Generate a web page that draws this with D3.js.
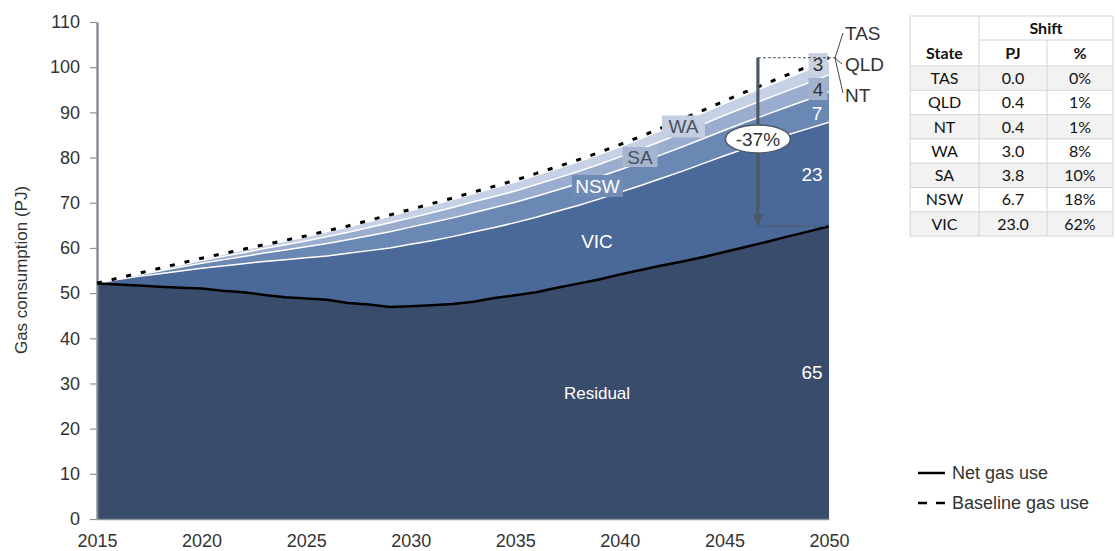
<!DOCTYPE html>
<html>
<head>
<meta charset="utf-8">
<script src="https://cdn.jsdelivr.net/npm/d3@7"></script>
<style>
  body { margin: 0; background: #fff; }
  svg { display: block; font-family: "Liberation Sans", Arial, sans-serif; }
</style>
</head>
<body>
<svg id="chart" width="1115" height="551"></svg>
<script>
// Annual gas consumption (PJ), 2015–2050
const years = [2015,2016,2017,2018,2019,2020,2021,2022,2023,2024,2025,2026,2027,2028,2029,2030,2031,2032,2033,2034,2035,2036,2037,2038,2039,2040,2041,2042,2043,2044,2045,2046,2047,2048,2049,2050];

// Net gas use after electrification
const residual = [52.1,51.9,51.7,51.4,51.2,51.0,50.5,50.2,49.6,49.1,48.8,48.5,47.8,47.5,46.9,47.1,47.3,47.6,48.1,48.9,49.5,50.2,51.2,52.1,53.0,54.1,55.1,56.1,57.0,58.0,59.1,60.2,61.3,62.5,63.6,64.8];

// Shift away from gas, by state
const vic = [0.1,1.1,2.0,2.9,3.7,4.5,5.5,6.3,7.4,8.3,9.0,9.7,11.0,11.9,13.1,13.7,14.3,14.9,15.4,15.6,16.1,16.6,16.9,17.3,17.8,18.2,18.7,19.3,20.0,20.7,21.3,21.8,22.2,22.5,22.8,23.0];
const nsw = [0,0.15,0.35,0.6,0.85,1.1,1.35,1.6,1.85,2.15,2.45,2.8,3.0,3.3,3.6,3.8,4.0,4.15,4.3,4.45,4.5,4.65,4.7,4.8,4.9,5.0,5.1,5.25,5.4,5.5,5.65,5.8,6.0,6.2,6.45,6.7];
const sa  = [0,0.08,0.18,0.3,0.45,0.6,0.72,0.85,1.0,1.15,1.3,1.5,1.65,1.8,1.95,2.05,2.2,2.3,2.4,2.45,2.5,2.6,2.65,2.7,2.75,2.85,2.95,3.0,3.1,3.2,3.3,3.4,3.5,3.55,3.65,3.8];
const wa  = [0,0.06,0.14,0.25,0.35,0.45,0.55,0.65,0.75,0.85,0.95,1.1,1.2,1.35,1.5,1.6,1.7,1.77,1.83,1.9,2.0,2.05,2.1,2.15,2.2,2.25,2.33,2.42,2.5,2.55,2.6,2.7,2.75,2.85,2.9,3.0];
const nt  = [0,0.01,0.02,0.03,0.03,0.04,0.05,0.06,0.07,0.08,0.1,0.11,0.12,0.13,0.14,0.15,0.16,0.17,0.18,0.19,0.2,0.21,0.22,0.23,0.24,0.25,0.26,0.27,0.28,0.3,0.31,0.32,0.34,0.36,0.38,0.4];
const qld = [0,0,0.01,0.02,0.02,0.03,0.04,0.05,0.05,0.06,0.07,0.08,0.09,0.1,0.11,0.12,0.13,0.14,0.15,0.16,0.17,0.18,0.19,0.2,0.21,0.22,0.23,0.24,0.25,0.26,0.27,0.29,0.31,0.33,0.36,0.4];
const tas = [0,0,0,0,0,0,0,0,0,0,0,0,0,0,0,0,0,0,0,0,0,0,0,0,0,0,0,0,0,0,0,0,0,0,0,0];

const layerKeys = ["Residual","VIC","NSW","SA","WA","NT","QLD","TAS"];
const layerColors = ["#3a4c6b","#4a6898","#6b88b4","#9badce","#c6d1e5","#d6deec","#e2e8f2","#eef1f7"];
const tableOrder = ["TAS","QLD","NT","WA","SA","NSW","VIC"];
const yTicks = [0,10,20,30,40,50,60,70,80,90,100,110];
const xTicks = [2015,2020,2025,2030,2035,2040,2045,2050];

const series = { Residual: residual, VIC: vic, NSW: nsw, SA: sa, WA: wa, NT: nt, QLD: qld, TAS: tas };
const rows = years.map((yr, i) => {
  const r = { year: yr };
  layerKeys.forEach(k => r[k] = series[k][i]);
  return r;
});

const svg = d3.select("#chart");
const x = d3.scaleLinear().domain([2015, 2050]).range([97, 829]);
const y = d3.scaleLinear().domain([0, 110]).range([519, 22]);

const stacked = d3.stack().keys(layerKeys)(rows);

// Stacked areas
const area = d3.area().x(d => x(d.data.year)).y0(d => y(d[0])).y1(d => y(d[1]));
svg.append("g").selectAll("path").data(stacked).join("path")
  .attr("d", area)
  .attr("fill", (d, i) => layerColors[i]);

// White separators on top of each state layer
const topLine = d3.line().x(d => x(d.data.year)).y(d => y(d[1]));
svg.append("g").selectAll("path").data(stacked.slice(1, 7)).join("path")
  .attr("d", topLine)
  .attr("fill", "none").attr("stroke", "#fff").attr("stroke-width", 1.5);

// Axes
const yAxis = svg.append("g").attr("transform", "translate(97,0)")
  .call(d3.axisLeft(y).tickValues(yTicks).tickSize(7).tickPadding(10).tickSizeOuter(0));
yAxis.select(".domain").attr("stroke", "#77818c").attr("stroke-width", 2.2);
yAxis.selectAll(".tick line").attr("stroke", "#8a939c").attr("stroke-width", 1.2);
yAxis.selectAll("text").attr("font-size", 18).attr("fill", "#333")
  .attr("font-family", "Liberation Sans, Arial, sans-serif");

const xAxis = svg.append("g").attr("transform", "translate(0,519)")
  .call(d3.axisBottom(x).tickValues(xTicks).tickFormat(d3.format("d")).tickSize(0).tickPadding(15));
xAxis.select(".domain").attr("stroke", "#8a939c").attr("stroke-width", 1.5);
xAxis.selectAll("text").attr("font-size", 18).attr("fill", "#333")
  .attr("font-family", "Liberation Sans, Arial, sans-serif");

svg.append("text")
  .attr("transform", "translate(27,270) rotate(-90)")
  .attr("text-anchor", "middle").attr("font-size", 17).attr("fill", "#333")
  .text("Gas consumption (PJ)");

// Net gas use and baseline lines
const stackTop = stacked[stacked.length - 1];
svg.append("path").datum(stacked[0])
  .attr("d", topLine).attr("fill", "none").attr("stroke", "#000").attr("stroke-width", 2.5);
svg.append("path").datum(stackTop)
  .attr("d", topLine).attr("fill", "none").attr("stroke", "#000")
  .attr("stroke-width", 3).attr("stroke-dasharray", "5,10");

// Layer labels
const last = rows[rows.length - 1];
const totalShift = layerKeys.slice(1).reduce((s, k) => s + last[k], 0);
const baseline2050 = last.Residual + totalShift;

function boxLabel(cx, cy, w, h, txt, fill, color) {
  svg.append("rect").attr("x", cx - w / 2).attr("y", cy - h / 2).attr("width", w).attr("height", h).attr("fill", fill);
  svg.append("text").attr("x", cx).attr("y", cy).attr("dy", "0.36em")
    .attr("text-anchor", "middle").attr("font-size", 19).attr("fill", color).text(txt);
}
function plainLabel(cx, cy, txt, size, color) {
  svg.append("text").attr("x", cx).attr("y", cy).attr("dy", "0.36em")
    .attr("text-anchor", "middle").attr("font-size", size).attr("fill", color).text(txt);
}

plainLabel(597, 393, "Residual", 17, "#fff");
plainLabel(597, 241, "VIC", 19, "#fff");
boxLabel(597.5, 186, 51, 22, "NSW", "#6f8cb7", "#fff");
boxLabel(640, 157, 35, 20, "SA", "#a5b4cf", "#4a5060");
boxLabel(683.5, 126.5, 43, 22, "WA", "#c4cee1", "#4a5060");

// End-of-period values
plainLabel(812, y(last.Residual / 2), Math.round(last.Residual), 19, "#fff");
plainLabel(812, y(last.Residual + last.VIC / 2), Math.round(last.VIC), 19, "#fff");
plainLabel(817, 113, Math.round(last.NSW), 19, "#fff");
boxLabel(818, 89, 19, 22, Math.round(last.SA), "#a2b2cc", "#333");
boxLabel(818, 64, 19, 22, Math.round(last.WA), "#c8d2e4", "#333");

// Reduction arrow
const ax = x(2046.6);
const yTop = y(baseline2050), yBot = y(last.Residual);
svg.append("line").attr("x1", ax).attr("x2", 836).attr("y1", yTop).attr("y2", yTop)
  .attr("stroke", "#555").attr("stroke-width", 1).attr("stroke-dasharray", "3,2");
svg.append("line").attr("x1", ax).attr("x2", x(2050)).attr("y1", yBot).attr("y2", yBot)
  .attr("stroke", "#555").attr("stroke-width", 1).attr("stroke-dasharray", "3,2");
svg.append("line").attr("x1", ax).attr("x2", ax).attr("y1", yTop).attr("y2", yBot - 10)
  .attr("stroke", "#4d5866").attr("stroke-width", 3.2);
svg.append("path")
  .attr("d", `M${ax - 5},${yBot - 12} L${ax + 5},${yBot - 12} L${ax},${yBot} Z`)
  .attr("fill", "#4d5866");
svg.append("ellipse").attr("cx", ax).attr("cy", 139).attr("rx", 32.5).attr("ry", 14)
  .attr("fill", "#fff").attr("stroke", "#4d5866").attr("stroke-width", 1.5);
plainLabel(ax, 139, "-" + Math.round(totalShift / baseline2050 * 100) + "%", 19, "#333");

// Small-state callout
svg.append("path").attr("d", "M843,33 L835,58 L843,93 M835,58 L842,64")
  .attr("fill", "none").attr("stroke", "#444").attr("stroke-width", 1);
[["TAS", 33], ["QLD", 64], ["NT", 95]].forEach(([t, cy]) => {
  svg.append("text").attr("x", 845).attr("y", cy).attr("dy", "0.36em")
    .attr("font-size", 19).attr("fill", "#333").text(t);
});

// Legend
svg.append("line").attr("x1", 918).attr("x2", 945).attr("y1", 473).attr("y2", 473)
  .attr("stroke", "#000").attr("stroke-width", 2.5);
svg.append("line").attr("x1", 918).attr("x2", 945).attr("y1", 503).attr("y2", 503)
  .attr("stroke", "#000").attr("stroke-width", 2.5).attr("stroke-dasharray", "9,9");
svg.append("text").attr("x", 952).attr("y", 473).attr("dy", "0.36em").attr("font-size", 18).attr("fill", "#333").text("Net gas use");
svg.append("text").attr("x", 952).attr("y", 503).attr("dy", "0.36em").attr("font-size", 18).attr("fill", "#333").text("Baseline gas use");

// Shift table
const tbl = svg.append("g").attr("font-family", "Lato, 'Open Sans', sans-serif").attr("font-size", 16);
const colX = [910, 979, 1047, 1113];
const rowH = 24.3, headTop = 16, headMid = 40, bodyTop = 66;
tableOrder.forEach((st, i) => {
  const ry = bodyTop + i * rowH;
  tbl.append("rect").attr("x", colX[0]).attr("y", ry).attr("width", colX[3] - colX[0]).attr("height", rowH)
    .attr("fill", i % 2 === 0 ? "#f2f2f2" : "#fff");
  const v = last[st];
  const cells = [st, v.toFixed(1), Math.round(v / totalShift * 100) + "%"];
  cells.forEach((c, j) => {
    tbl.append("text").attr("x", (colX[j] + colX[j + 1]) / 2).attr("y", ry + rowH / 2).attr("dy", "0.36em")
      .attr("text-anchor", "middle").attr("fill", "#111").text(c);
  });
});
const gridColor = "#d4d4d4";
const bodyBottom = bodyTop + tableOrder.length * rowH;
tbl.append("line").attr("x1", colX[0]).attr("x2", colX[3]).attr("y1", headTop).attr("y2", headTop).attr("stroke", gridColor);
tbl.append("line").attr("x1", colX[1]).attr("x2", colX[3]).attr("y1", headMid).attr("y2", headMid).attr("stroke", gridColor);
for (let i = 0; i <= tableOrder.length; i++) {
  const ly = bodyTop + i * rowH;
  tbl.append("line").attr("x1", colX[0]).attr("x2", colX[3]).attr("y1", ly).attr("y2", ly).attr("stroke", gridColor);
}
tbl.append("line").attr("x1", colX[0]).attr("x2", colX[0]).attr("y1", headTop).attr("y2", bodyBottom).attr("stroke", gridColor);
tbl.append("line").attr("x1", colX[1]).attr("x2", colX[1]).attr("y1", headTop).attr("y2", bodyBottom).attr("stroke", gridColor);
tbl.append("line").attr("x1", colX[2]).attr("x2", colX[2]).attr("y1", headMid).attr("y2", bodyBottom).attr("stroke", gridColor);
tbl.append("line").attr("x1", colX[3]).attr("x2", colX[3]).attr("y1", headTop).attr("y2", bodyBottom).attr("stroke", gridColor);
tbl.append("text").attr("x", (colX[1] + colX[3]) / 2).attr("y", (headTop + headMid) / 2).attr("dy", "0.36em")
  .attr("text-anchor", "middle").attr("font-weight", "bold").attr("fill", "#111").text("Shift");
[["State", 0], ["PJ", 1], ["%", 2]].forEach(([t, j]) => {
  tbl.append("text").attr("x", (colX[j] + colX[j + 1]) / 2).attr("y", (headMid + bodyTop) / 2).attr("dy", "0.36em")
    .attr("text-anchor", "middle").attr("font-weight", "bold").attr("fill", "#111").text(t);
});
</script>
</body>
</html>
